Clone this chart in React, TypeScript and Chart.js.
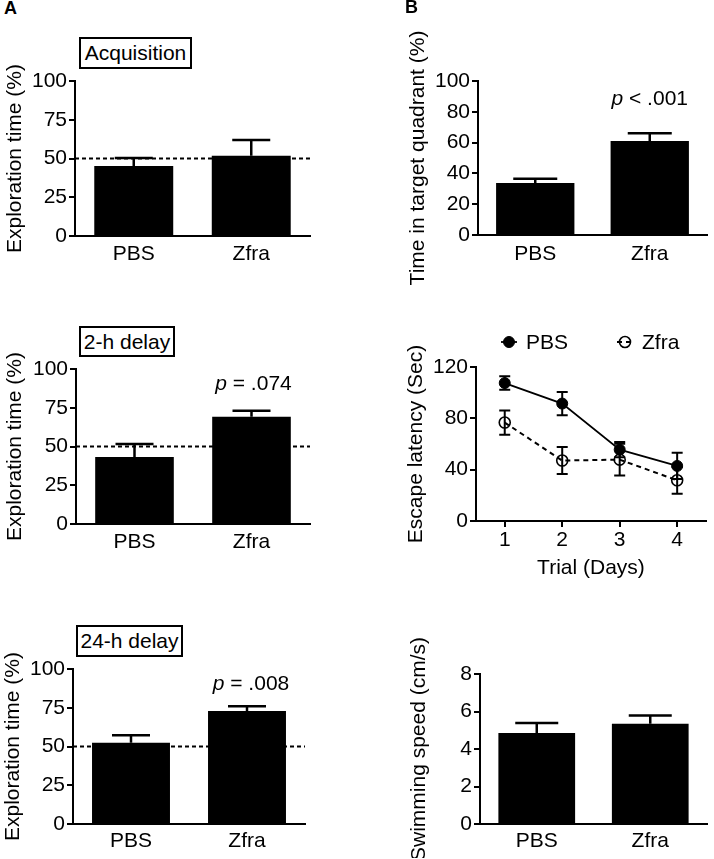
import React, { useEffect, useRef } from 'react';
import { Chart, registerables } from 'chart.js';

Chart.register(...registerables);

const FONT = "'Liberation Sans', Arial, Helvetica, sans-serif";
Chart.defaults.font.family = FONT;
Chart.defaults.font.size = 21;
Chart.defaults.color = '#000';

// ---------------- data ----------------
const GROUPS = ['PBS', 'Zfra'];

const ACQ_MEAN = [45.2, 51.8];
const ACQ_ERR = [5.1, 10.2];
const DELAY2H_MEAN = [43.2, 69.2];
const DELAY2H_ERR = [8.4, 3.9];
const DELAY24H_MEAN = [52.5, 72.9];
const DELAY24H_ERR = [4.7, 3.0];
const CHANCE_LEVEL = 50;

const QUADRANT_MEAN = [33.7, 61.1];
const QUADRANT_ERR = [2.8, 5.0];

const DAYS = ['1', '2', '3', '4'];
const PBS_LATENCY = [107.5, 91.5, 55.6, 42.9];
const PBS_LATENCY_ERR = [5.2, 9.0, 6.0, 10.2];
const ZFRA_LATENCY = [76.7, 47.1, 47.8, 31.7];
const ZFRA_LATENCY_ERR = [9.5, 10.5, 12.4, 10.4];

const SPEED_MEAN = [4.85, 5.35];
const SPEED_ERR = [0.54, 0.44];

// ---------------- plugins ----------------
function drawErrorBars(chart: any, opts: any) {
  const { ctx } = chart;
  const yScale = chart.scales.y;
  chart.data.datasets.forEach((ds: any, i: number) => {
    const errs = ds.errors;
    if (!errs) return;
    const meta = chart.getDatasetMeta(i);
    meta.data.forEach((el: any, j: number) => {
      const v = ds.data[j];
      const e = errs[j];
      const x = el.x;
      const yTop = yScale.getPixelForValue(v + e);
      const yMid = yScale.getPixelForValue(v);
      const yBot = opts.both ? yScale.getPixelForValue(v - e) : yMid;
      ctx.save();
      ctx.strokeStyle = '#000';
      ctx.lineWidth = opts.lineWidth;
      ctx.setLineDash([]);
      ctx.beginPath();
      ctx.moveTo(x, yBot);
      ctx.lineTo(x, yTop);
      ctx.moveTo(x - opts.cap, yTop);
      ctx.lineTo(x + opts.cap, yTop);
      if (opts.both) {
        ctx.moveTo(x - opts.cap, yBot);
        ctx.lineTo(x + opts.cap, yBot);
      }
      ctx.stroke();
      ctx.restore();
    });
  });
}

const errorBarsPlugin = {
  id: 'errorBars',
  beforeDatasetsDraw(chart: any, _a: any, opts: any) {
    if (opts && opts.under) drawErrorBars(chart, opts);
  },
  afterDatasetsDraw(chart: any, _a: any, opts: any) {
    if (opts && !opts.under) drawErrorBars(chart, opts);
  },
};

const chanceLinePlugin = {
  id: 'chanceLine',
  beforeDatasetsDraw(chart: any, _a: any, opts: any) {
    if (!opts || opts.value == null) return;
    const { ctx, chartArea } = chart;
    const y = chart.scales.y.getPixelForValue(opts.value);
    ctx.save();
    ctx.strokeStyle = '#000';
    ctx.lineWidth = 1.8;
    ctx.setLineDash([4, 3]);
    ctx.beginPath();
    ctx.moveTo(chartArea.left, y);
    ctx.lineTo(chartArea.right, y);
    ctx.stroke();
    ctx.restore();
  },
};

const pValuePlugin = {
  id: 'pValue',
  afterDatasetsDraw(chart: any, _a: any, opts: any) {
    if (!opts || !opts.rest) return;
    const { ctx } = chart;
    const el = chart.getDatasetMeta(0).data[opts.index];
    const x = el.x + (opts.dx || 0);
    const y = chart.scales.y.getPixelForValue(opts.at);
    ctx.save();
    ctx.fillStyle = '#000';
    ctx.textBaseline = 'middle';
    ctx.textAlign = 'left';
    ctx.font = `italic 21px ${FONT}`;
    const wp = ctx.measureText(opts.sym).width;
    ctx.font = `21px ${FONT}`;
    const wr = ctx.measureText(opts.rest).width;
    const x0 = x - (wp + wr) / 2;
    ctx.font = `italic 21px ${FONT}`;
    ctx.fillText(opts.sym, x0, y);
    ctx.font = `21px ${FONT}`;
    ctx.fillText(opts.rest, x0 + wp, y);
    ctx.restore();
  },
};

const lineLegendPlugin = {
  id: 'lineLegend',
  afterDraw(chart: any, _a: any, opts: any) {
    if (!opts || opts.x0 == null) return;
    const { ctx, chartArea } = chart;
    chart.data.datasets.forEach((ds: any, i: number) => {
      const cx = chartArea.left + opts.x0 + i * opts.gap;
      const cy = chartArea.top + opts.dy;
      ctx.save();
      ctx.strokeStyle = '#000';
      ctx.lineWidth = ds.borderWidth;
      ctx.setLineDash(ds.borderDash || []);
      ctx.beginPath();
      ctx.moveTo(cx - 8, cy);
      ctx.lineTo(cx + 8, cy);
      ctx.stroke();
      ctx.setLineDash([]);
      ctx.beginPath();
      ctx.arc(cx, cy, ds.pointRadius, 0, Math.PI * 2);
      ctx.fillStyle = ds.pointBackgroundColor;
      ctx.fill();
      ctx.lineWidth = ds.pointBorderWidth;
      ctx.stroke();
      ctx.fillStyle = '#000';
      ctx.font = `21px ${FONT}`;
      ctx.textBaseline = 'middle';
      ctx.textAlign = 'left';
      ctx.fillText(ds.label, cx + opts.textDx, cy + 1);
      ctx.restore();
    });
  },
};

// ---------------- config builders ----------------
function yAxis(o: any) {
  return {
    min: 0,
    max: o.yMax,
    ticks: { stepSize: o.yStep, padding: 2, color: '#000', font: { size: 21 } },
    grid: { drawOnChartArea: false, drawTicks: true, tickLength: 6, color: '#000', lineWidth: 2 },
    border: { display: true, color: '#000', width: 2 },
    title: { display: true, text: o.yTitle, color: '#000', font: { size: 21 }, padding: { top: o.titlePad, bottom: 0 } },
    afterFit: (s: any) => { s.width = o.yw; },
  };
}

function barConfig(o: any) {
  return {
    type: 'bar',
    data: {
      labels: GROUPS,
      datasets: [
        {
          data: o.values,
          errors: o.errors,
          backgroundColor: '#000',
          borderWidth: 0,
          barPercentage: o.barPct,
          categoryPercentage: 1,
        },
      ],
    },
    options: {
      responsive: false,
      animation: false,
      events: [],
      layout: { padding: { top: o.pt, right: o.pr, bottom: 0, left: 0 } },
      plugins: {
        legend: { display: false },
        tooltip: { enabled: false },
        errorBars: { cap: o.cap, lineWidth: 2.5, both: false, under: false },
        chanceLine: o.chance != null ? { value: o.chance } : false,
        pValue: o.pRest ? { sym: 'p', rest: o.pRest, at: o.pAt, index: 1, dx: o.pDx || 0 } : false,
      },
      scales: {
        x: {
          grid: { display: false, drawTicks: false },
          border: { display: true, color: '#000', width: 2 },
          ticks: { padding: o.xPad, color: '#000', font: { size: 21 } },
          afterFit: (s: any) => { s.height = o.xh; },
        },
        y: yAxis(o),
      },
    },
    plugins: [chanceLinePlugin, errorBarsPlugin, pValuePlugin],
  };
}

function latencyConfig() {
  return {
    type: 'line',
    data: {
      labels: DAYS,
      datasets: [
        {
          label: 'PBS',
          data: PBS_LATENCY,
          errors: PBS_LATENCY_ERR,
          borderColor: '#000',
          borderWidth: 1.8,
          pointRadius: 5.5,
          pointBackgroundColor: '#000',
          pointBorderColor: '#000',
          pointBorderWidth: 1,
          fill: false,
          tension: 0,
        },
        {
          label: 'Zfra',
          data: ZFRA_LATENCY,
          errors: ZFRA_LATENCY_ERR,
          borderColor: '#000',
          borderWidth: 2,
          borderDash: [5, 4],
          pointRadius: 5.5,
          pointBackgroundColor: 'rgba(255,255,255,0)',
          pointBorderColor: '#000',
          pointBorderWidth: 1.6,
          fill: false,
          tension: 0,
        },
      ],
    },
    options: {
      responsive: false,
      animation: false,
      events: [],
      layout: { padding: { top: 60, right: 3, bottom: 0, left: 0 } },
      plugins: {
        legend: { display: false },
        tooltip: { enabled: false },
        errorBars: { cap: 5.5, lineWidth: 2, both: true, under: true },
        lineLegend: { x0: 33, gap: 116, dy: -25, textDx: 17 },
      },
      scales: {
        x: {
          offset: true,
          grid: { display: true, drawOnChartArea: false, drawTicks: true, tickLength: 6, color: '#000', lineWidth: 2, offset: false },
          border: { display: true, color: '#000', width: 2 },
          ticks: { padding: 1, color: '#000', font: { size: 21 } },
          title: { display: true, text: 'Trial (Days)', color: '#000', font: { size: 21 }, padding: { top: 0, bottom: 2 } },
          afterFit: (s: any) => { s.height = 62; },
        },
        y: yAxis({ yMax: 120, yStep: 40, yTitle: 'Escape latency (Sec)', yw: 75, titlePad: 3 }),
      },
    },
    plugins: [errorBarsPlugin, lineLegendPlugin],
  };
}

// ---------------- components ----------------
function ChartBox({ left, top, width, height, make }: any) {
  const ref = useRef<HTMLCanvasElement>(null);
  useEffect(() => {
    const chart = new Chart(ref.current as HTMLCanvasElement, make() as any);
    return () => chart.destroy();
  }, []);
  return (
    <canvas
      ref={ref}
      width={width}
      height={height}
      style={{ position: 'absolute', left, top, width, height }}
    />
  );
}

function TitleBox({ left, top, width, height, text }: any) {
  return (
    <div
      style={{
        position: 'absolute',
        left,
        top,
        width,
        height,
        boxSizing: 'border-box',
        border: '2px solid #000',
        background: '#fff',
        display: 'flex',
        alignItems: 'center',
        justifyContent: 'center',
        fontFamily: FONT,
        fontSize: 21,
        color: '#000',
        whiteSpace: 'nowrap',
      }}
    >
      {text}
    </div>
  );
}

export default function App() {
  return (
    <div
      style={{
        position: 'absolute',
        left: 0,
        top: 0,
        width: 714,
        height: 859,
        overflow: 'hidden',
        background: '#fff',
        fontFamily: FONT,
      }}
    >
      <ChartBox
        left={0} top={61} width={315} height={215}
        make={() => barConfig({ values: ACQ_MEAN, errors: ACQ_ERR, yMax: 100, yStep: 25, yTitle: 'Exploration time (%)', yw: 75, titlePad: 3, pt: 20, pr: 5, xh: 40, xPad: 6, cap: 19, barPct: 0.672, chance: CHANCE_LEVEL })}
      />
      <ChartBox
        left={0} top={349} width={315} height={215}
        make={() => barConfig({ values: DELAY2H_MEAN, errors: DELAY2H_ERR, yMax: 100, yStep: 25, yTitle: 'Exploration time (%)', yw: 76, titlePad: 3, pt: 20, pr: 5, xh: 40, xPad: 6, cap: 19, barPct: 0.672, chance: CHANCE_LEVEL, pRest: ' = .074', pAt: 90, pDx: 2 })}
      />
      <ChartBox
        left={0} top={649} width={310} height={209}
        make={() => barConfig({ values: DELAY24H_MEAN, errors: DELAY24H_ERR, yMax: 100, yStep: 25, yTitle: 'Exploration time (%)', yw: 73, titlePad: 1, pt: 20, pr: 5, xh: 34, xPad: 5, cap: 19, barPct: 0.672, chance: CHANCE_LEVEL, pRest: ' = .008', pAt: 90, pDx: 4 })}
      />
      <ChartBox
        left={403} top={15} width={309} height={278}
        make={() => barConfig({ values: QUADRANT_MEAN, errors: QUADRANT_ERR, yMax: 100, yStep: 20, yTitle: 'Time in target quadrant (%)', yw: 75, titlePad: 3, pt: 66, pr: 5, xh: 58, xPad: 7, cap: 22, barPct: 0.684, pRest: ' < .001', pAt: 88 })}
      />
      <ChartBox left={401} top={307} width={312} height={276} make={latencyConfig} />
      <ChartBox
        left={404} top={620} width={308} height={238}
        make={() => barConfig({ values: SPEED_MEAN, errors: SPEED_ERR, yMax: 8, yStep: 2, yTitle: 'Swimming speed (cm/s)', yw: 76, titlePad: 3, pt: 54, pr: 5, xh: 34, xPad: 5, cap: 21.5, barPct: 0.676 })}
      />

      <TitleBox left={79} top={37} width={113} height={32} text="Acquisition" />
      <TitleBox left={79} top={326} width={96} height={31} text="2-h delay" />
      <TitleBox left={76} top={625} width={107} height={32} text="24-h delay" />

      <div style={{ position: 'absolute', left: 4, top: -1, fontFamily: FONT, fontWeight: 'bold', fontSize: 18, lineHeight: '18px', color: '#000' }}>A</div>
      <div style={{ position: 'absolute', left: 405, top: -2, fontFamily: FONT, fontWeight: 'bold', fontSize: 18, lineHeight: '18px', color: '#000' }}>B</div>
    </div>
  );
}
